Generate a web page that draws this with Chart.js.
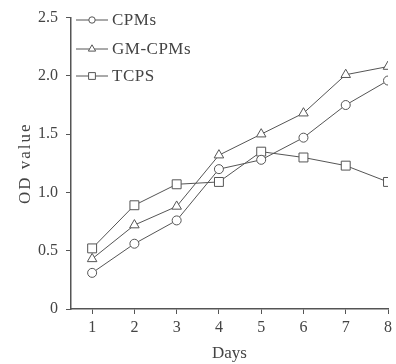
<!DOCTYPE html>
<html>
<head>
<meta charset="utf-8">
<script src="https://cdn.jsdelivr.net/npm/chart.js@4"></script>
<style>
html,body{margin:0;padding:0;background:#fff;}
#wrap{width:396px;height:364px;}
</style>
</head>
<body>
<div id="wrap"><canvas id="c" width="396" height="364"></canvas></div>
<script>
const days = [1, 2, 3, 4, 5, 6, 7, 8];
const cpms = [0.31, 0.56, 0.76, 1.20, 1.28, 1.47, 1.75, 1.96];
const gmCpms = [0.43, 0.72, 0.88, 1.32, 1.50, 1.68, 2.01, 2.08];
const tcps = [0.52, 0.89, 1.07, 1.09, 1.35, 1.30, 1.23, 1.09];
const seriesNames = ['CPMs', 'GM-CPMs', 'TCPS'];
const yTicks = [0, 0.5, 1.0, 1.5, 2.0, 2.5];
const yTickLabels = ['0', '0.5', '1.0', '1.5', '2.0', '2.5'];
const yTitle = 'OD value';
const xTitle = 'Days';

const INK = '#555';
const TEXT = '#444';
const FONT = '"Liberation Serif", "DejaVu Serif", serif';
const styles = [
  {pointStyle: 'circle', radius: 4.5, legendRadius: 3.2},
  {pointStyle: 'triangle', radius: 5.5, legendRadius: 4.2},
  {pointStyle: 'rect', radius: 6.3, legendRadius: 4.8}
];
const seriesData = [cpms, gmCpms, tcps];

function drawMarker(ctx, style, r, x, y) {
  ctx.save();
  ctx.beginPath();
  if (style === 'circle') {
    ctx.arc(x, y, r, 0, Math.PI * 2);
  } else if (style === 'triangle') {
    ctx.moveTo(x, y - r);
    ctx.lineTo(x + r * Math.sin(Math.PI * 2 / 3), y - r * Math.cos(Math.PI * 2 / 3));
    ctx.lineTo(x + r * Math.sin(Math.PI * 4 / 3), y - r * Math.cos(Math.PI * 4 / 3));
    ctx.closePath();
  } else {
    const s = Math.SQRT1_2 * r;
    ctx.rect(x - s, y - s, 2 * s, 2 * s);
  }
  ctx.fillStyle = '#fff';
  ctx.fill();
  ctx.lineWidth = 1;
  ctx.strokeStyle = INK;
  ctx.stroke();
  ctx.restore();
}

const legendPlugin = {
  id: 'customLegend',
  afterDraw(chart) {
    const ctx = chart.ctx;
    const rows = [20, 49, 76];
    chart.data.datasets.forEach((ds, i) => {
      const y = rows[i];
      ctx.save();
      ctx.strokeStyle = INK;
      ctx.lineWidth = 1;
      ctx.beginPath();
      ctx.moveTo(76, y);
      ctx.lineTo(108, y);
      ctx.stroke();
      drawMarker(ctx, styles[i].pointStyle, styles[i].legendRadius, 92, y);
      ctx.fillStyle = TEXT;
      ctx.font = '17px ' + FONT;
      ctx.textBaseline = 'middle';
      ctx.textAlign = 'left';
      if ('letterSpacing' in ctx) ctx.letterSpacing = '0.5px';
      ctx.fillText(ds.label, 112, y + 1);
      ctx.restore();
    });
    // y axis title
    const area = chart.chartArea;
    ctx.save();
    ctx.translate(26, (area.top + area.bottom) / 2);
    ctx.rotate(-Math.PI / 2);
    ctx.fillStyle = TEXT;
    ctx.font = '17px ' + FONT;
    if ('letterSpacing' in ctx) ctx.letterSpacing = '2px';
    ctx.textAlign = 'center';
    ctx.textBaseline = 'middle';
    ctx.fillText(yTitle, 0, 0);
    ctx.restore();
  }
};

new Chart(document.getElementById('c'), {
  type: 'line',
  data: {
    datasets: seriesNames.map((name, i) => ({
      label: name,
      data: days.map((d, j) => ({x: d, y: seriesData[i][j]})),
      borderColor: INK,
      borderWidth: 1,
      backgroundColor: '#fff',
      pointStyle: styles[i].pointStyle,
      pointRadius: styles[i].radius,
      pointBorderColor: INK,
      pointBackgroundColor: '#fff',
      pointBorderWidth: 1,
      tension: 0
    }))
  },
  options: {
    responsive: false,
    animation: false,
    events: [],
    layout: {padding: {top: 13, right: 5, left: 0, bottom: 0}},
    plugins: {legend: {display: false}, tooltip: {enabled: false}},
    scales: {
      x: {
        type: 'linear',
        min: 0.5,
        max: 8,
        afterBuildTicks(scale) { scale.ticks = days.map(v => ({value: v})); },
        afterFit(scale) { scale.height = 55; },
        grid: {display: true, drawOnChartArea: false, drawTicks: true, tickLength: 5, color: INK},
        border: {display: true, color: INK, width: 1.5},
        ticks: {color: TEXT, font: {family: FONT, size: 16}, padding: 4, maxRotation: 0},
        title: {display: true, text: xTitle, color: TEXT, font: {family: FONT, size: 17}, padding: {top: 0, bottom: 0}}
      },
      y: {
        type: 'linear',
        min: 0,
        max: 2.5,
        afterBuildTicks(scale) { scale.ticks = yTicks.map(v => ({value: v})); },
        afterFit(scale) { scale.width = 71; },
        grid: {display: true, drawOnChartArea: false, drawTicks: true, tickLength: 5, color: INK},
        border: {display: true, color: INK, width: 1.5},
        ticks: {
          color: TEXT, font: {family: FONT, size: 16}, padding: 8,
          callback(v) { const k = yTicks.indexOf(v); return k >= 0 ? yTickLabels[k] : ''; }
        },
        title: {display: false}
      }
    }
  },
  plugins: [legendPlugin]
});
</script>
</body>
</html>
